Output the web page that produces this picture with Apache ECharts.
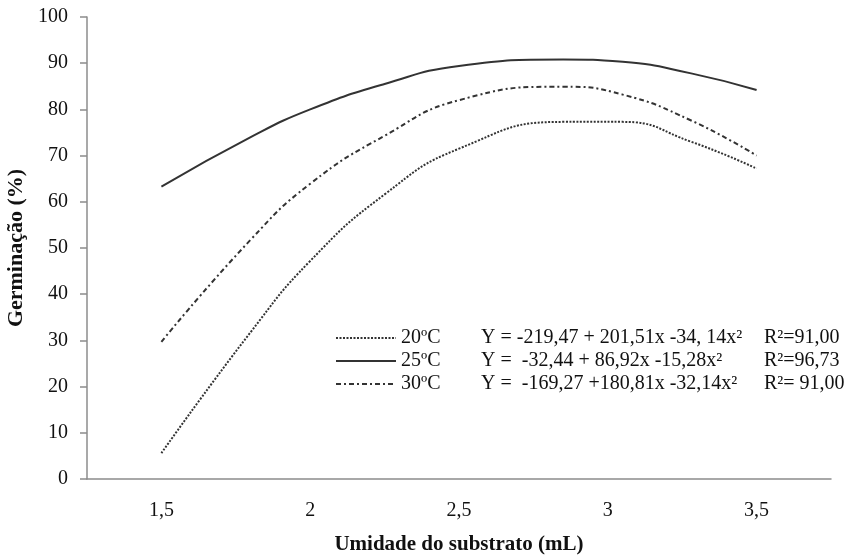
<!DOCTYPE html>
<html>
<head>
<meta charset="utf-8">
<script src="https://cdn.jsdelivr.net/npm/echarts@6/dist/echarts.min.js"></script>
<style>
  html, body { margin: 0; padding: 0; background: #fff; }
  #chart { width: 856px; height: 556px; }
</style>
</head>
<body>
<div id="chart"></div>
<script>
// umidade do substrato (mL): posições onde as curvas foram lidas
let xValues = [1.5, 1.8, 2.0, 2.25, 2.5, 2.85, 3.05, 3.28, 3.5];
let xTickLabels = [1.5, 2, 2.5, 3, 3.5];
let yTicks = [0, 10, 20, 30, 40, 50, 60, 70, 80, 90, 100];

// germinação (%)
let t20 = [5.6, 31.8, 47.2, 61.6, 71.5, 77.3, 77.3, 73.0, 67.2];
let t25 = [63.3, 74.0, 80.0, 85.5, 89.4, 90.8, 90.3, 87.8, 84.2];
let t30 = [29.7, 51.8, 63.9, 74.3, 82.0, 84.9, 83.2, 77.6, 70.0];

let seriesNames = ['20ºC', '25ºC', '30ºC'];
let equations = [
  'Y = -219,47 + 201,51x -34, 14x²',
  'Y =  -32,44 + 86,92x -15,28x²',
  'Y =  -169,27 +180,81x -32,14x²'
];
let r2 = ['R²=91,00', 'R²=96,73', 'R²= 91,00'];

let fontFamily = '"Liberation Serif", "Times New Roman", serif';
let lineColor = '#333';
let axisColor = '#8c8c8c';

function pairs(ys) {
  return xValues.map(function (x, i) { return [x, ys[i]]; });
}

let chart = echarts.init(document.getElementById('chart'));

let option = {
  backgroundColor: '#fff',
  animation: false,
  grid: { left: 87, right: 25, top: 17, bottom: 77, containLabel: false, outerBoundsMode: 'none' },
  legend: {
    orient: 'vertical',
    left: 330,
    top: 323,
    itemWidth: 60,
    itemHeight: 14,
    itemGap: 3,
    itemStyle: { opacity: 0 },
    data: seriesNames,
    formatter: function (name) {
      let i = seriesNames.indexOf(name);
      return '{a|' + name + '}{b|' + equations[i] + '}{c|' + r2[i] + '}';
    },
    textStyle: {
      fontFamily: fontFamily,
      fontSize: 20,
      color: '#111',
      lineHeight: 20,
      rich: {
        a: { width: 80, fontFamily: fontFamily, fontSize: 20, color: '#111' },
        b: { width: 283, fontFamily: fontFamily, fontSize: 20, color: '#111' },
        c: { fontFamily: fontFamily, fontSize: 20, color: '#111' }
      }
    }
  },
  xAxis: {
    type: 'value',
    min: 1.25,
    max: 3.75,
    interval: 0.25,
    name: 'Umidade do substrato (mL)',
    nameLocation: 'middle',
    nameGap: 55,
    nameTextStyle: { fontFamily: fontFamily, fontSize: 21, fontWeight: 'bold', color: '#111' },
    axisLine: { lineStyle: { color: axisColor, width: 1.5 } },
    axisTick: { show: false },
    axisLabel: {
      fontFamily: fontFamily,
      fontSize: 20,
      color: '#111',
      margin: 22,
      showMinLabel: false,
      showMaxLabel: false,
      formatter: function (v) {
        let hit = xTickLabels.some(function (t) { return Math.abs(t - v) < 1e-6; });
        return hit ? String(v).replace('.', ',') : '';
      }
    },
    splitLine: { show: false }
  },
  yAxis: {
    type: 'value',
    min: yTicks[0],
    max: yTicks[yTicks.length - 1],
    interval: 10,
    name: 'Germinação (%)',
    nameLocation: 'middle',
    nameGap: 56,
    nameTextStyle: { fontFamily: fontFamily, fontSize: 22, fontWeight: 'bold', color: '#111' },
    axisLine: { show: true, lineStyle: { color: axisColor, width: 1.5 } },
    axisTick: { show: true, length: 7, lineStyle: { color: axisColor, width: 1.5 } },
    axisLabel: { fontFamily: fontFamily, fontSize: 20, color: '#111', margin: 19 },
    splitLine: { show: false }
  },
  series: [
    {
      name: seriesNames[0],
      type: 'line',
      data: pairs(t20),
      smooth: 0.5,
      symbol: 'none',
      lineStyle: { color: lineColor, width: 2, type: [2, 1.5] },
      itemStyle: { color: lineColor }
    },
    {
      name: seriesNames[1],
      type: 'line',
      data: pairs(t25),
      smooth: 0.5,
      symbol: 'none',
      lineStyle: { color: lineColor, width: 2, type: 'solid' },
      itemStyle: { color: lineColor }
    },
    {
      name: seriesNames[2],
      type: 'line',
      data: pairs(t30),
      smooth: 0.5,
      symbol: 'none',
      lineStyle: { color: lineColor, width: 2, type: [5, 3, 2, 3] },
      itemStyle: { color: lineColor }
    }
  ]
};

chart.setOption(option);
</script>
</body>
</html>
